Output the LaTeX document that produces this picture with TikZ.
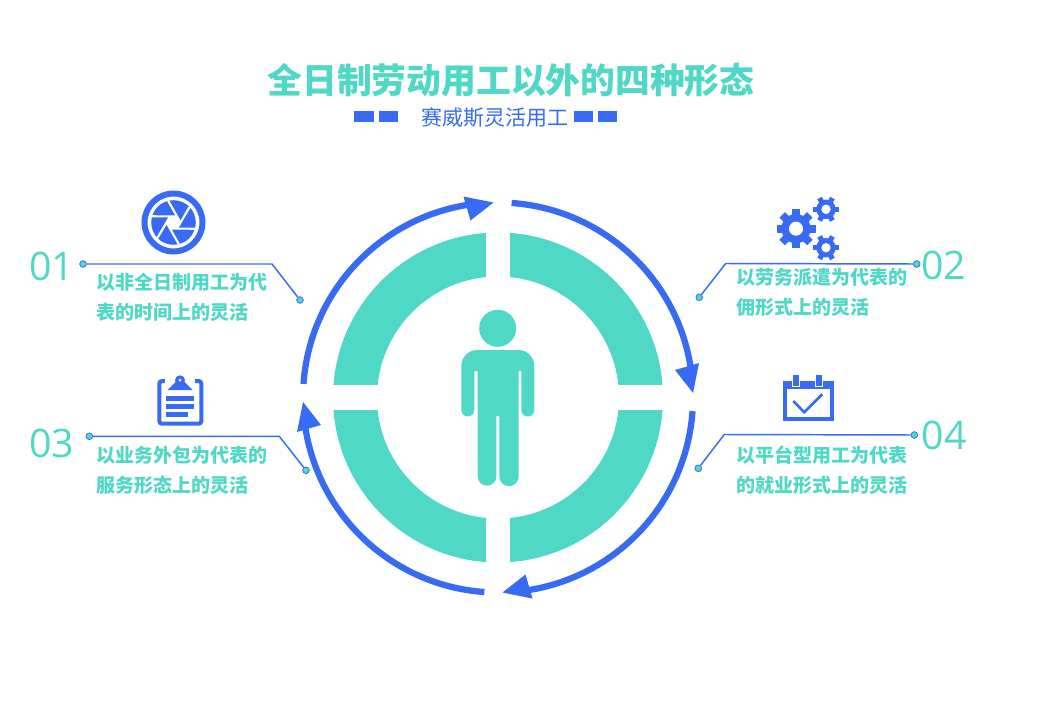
\documentclass[tikz,border=0pt]{standalone}
\usepackage{fontspec}
\usepackage{xcolor}
\usepackage{tikz}
\usetikzlibrary{positioning,calc}
\setmainfont{Noto Sans CJK SC}
\newfontfamily\numfont{Open Sans}
\definecolor{tealmain}{RGB}{79,216,197}
\definecolor{bluemain}{RGB}{55,107,243}
\tikzset{
    titletext/.style={inner sep=0pt,text=tealmain,font=\bfseries\fontsize{26.1}{30}\selectfont},
    subtext/.style={inner sep=0pt,text=bluemain,font=\fontsize{15.75}{18}\selectfont},
    numtext/.style={inner sep=0pt,text=tealmain,font=\numfont\fontsize{29.5}{32}\selectfont},
    desctext/.style={inner sep=0pt,anchor=west,align=left,text=tealmain,font=\bfseries\fontsize{14.25}{22.5}\selectfont},
    dotmark/.style={circle,inner sep=0pt,minimum size=5pt,fill=tealmain,draw=bluemain,line width=0.6pt},
    leader/.style={draw=bluemain,line width=1.1pt},
    ringarrow/.style={draw=bluemain,line width=4.7pt}
}
\begin{document}
\begin{tikzpicture}[x=0.75pt,y=0.75pt]
    \useasboundingbox (0,0) rectangle (1047,-718);

    % Title
    \node[titletext] (title) at (511,-80) {全日制劳动用工以外的四种形态};
    \node[subtext] (sub) at (494.5,-118) {赛威斯灵活用工};
    \foreach \xa/\xb in {354/374, 379/398, 574/592.7, 598.3/616.7} {
        \fill[bluemain] (\xa,-111) rectangle (\xb,-121.7);
    }

    % Ring
    \fill[tealmain,even odd rule] (498,-397.5) circle (165) (498,-397.5) circle (121);
    \fill[white] (486,-220) rectangle (510,-575);
    \fill[white] (320,-385) rectangle (676,-410);

    % Arrows
    \foreach \a in {0,-90,-180,-270} {
        \begin{scope}[shift={(498,-397.5)},rotate=\a]
            \draw[ringarrow] (86:195) arc (86:8:195);
            \fill[bluemain] (177,27.5) -- (195,4.5) -- (201,34.5) -- cycle;
        \end{scope}
    }

    % Person
    \fill[tealmain] (497.7,-328.3) circle (18.5);
    \fill[tealmain] (461.3,-366) arc (180:90:16) -- (518.3,-350) arc (90:0:16)
        -- (534.3,-410) arc (0:-180:6.5) -- (521.3,-371) -- (518.7,-371)
        -- (518.7,-476.4) arc (0:-180:9.7) -- (499.3,-416) -- (496.3,-416)
        -- (496.3,-476.4) arc (0:-180:9.3) -- (477.7,-371) -- (474.3,-371)
        -- (474.3,-410) arc (0:-180:6.5) -- cycle;

    % 01
    \node[numtext] (num01) at (51.5,-266) {01};
    \node[dotmark] (dot01a) at (83,-264) {};
    \node[dotmark] (dot01b) at (300,-300) {};
    \coordinate (bend01) at (272,-264);
    \draw[leader] (dot01a) -- (bend01) -- (dot01b);
    \node[desctext] (desc01) at (96,-297.5) {以非全日制用工为代\\表的时间上的灵活};
    % shutter icon
    \begin{scope}[shift={(173.5,-222.5)}]
        \draw[bluemain,line width=4.5pt] (0,0) circle (29);
        \fill[bluemain] (0,0) circle (22.3);
        \foreach \a in {0,60,...,300} {
            \draw[white,line width=1.6pt,rotate=\a+60] (7,0) -- (-5.3,21.6);
        }
        \fill[white] (0:7) -- (60:7) -- (120:7) -- (180:7) -- (240:7) -- (300:7) -- cycle;
    \end{scope}

    % 02
    \node[numtext] (num02) at (943.5,-265) {02};
    \node[dotmark] (dot02a) at (916.7,-264) {};
    \node[dotmark] (dot02b) at (699.3,-297.3) {};
    \coordinate (bend02) at (725.7,-263.5);
    \draw[leader] (dot02a) -- (bend02) -- (dot02b);
    \node[desctext] (desc02) at (736,-292) {以劳务派遣为代表的\\佣形式上的灵活};
    % gear icon
    \foreach \gx/\gy/\gr/\gstep in {796/-228.7/19.5/45, 826/-209.3/13/60, 826/-247.7/13/60} {
        \begin{scope}[shift={(\gx,\gy)}]
            \fill[bluemain] (0,0) circle (0.75*\gr);
            \pgfmathsetmacro{\gnext}{\gstep+\gstep}
            \foreach \a in {0,\gstep,\gnext,...,359} {
                \fill[bluemain,rotate=\a] (0.6*\gr,-0.2*\gr) rectangle (\gr,0.2*\gr);
            }
            \fill[white] (0,0) circle (0.36*\gr);
        \end{scope}
    }

    % 03
    \node[numtext] (num03) at (51.7,-443) {03};
    \node[dotmark] (dot03a) at (89.3,-436.3) {};
    \node[dotmark] (dot03b) at (306,-470.3) {};
    \coordinate (bend03) at (279.3,-436.3);
    \draw[leader] (dot03a) -- (bend03) -- (dot03b);
    \node[desctext] (desc03) at (96,-470) {以业务外包为代表的\\服务形态上的灵活};
    % clipboard icon
    \draw[bluemain,line width=3pt,rounded corners=2pt] (159.3,-381) rectangle (201.3,-423.7);
    \fill[white] (165,-376) rectangle (195,-389);
    \fill[bluemain] (167.7,-390) -- (175.5,-382) -- (184.5,-382) -- (192.7,-390) -- cycle;
    \fill[bluemain] (180,-380.3) circle (5);
    \fill[white] (180,-380) circle (1.5);
    \foreach \ya/\xb in {396/194, 404/194, 412/188} {
        \fill[bluemain] (166,-\ya) rectangle (\xb,-\ya-4.7);
    }

    % 04
    \node[numtext] (num04) at (944,-435.5) {04};
    \node[dotmark] (dot04a) at (914.3,-435) {};
    \node[dotmark] (dot04b) at (698.3,-468.3) {};
    \coordinate (bend04) at (724.3,-434.5);
    \draw[leader] (dot04a) -- (bend04) -- (dot04b);
    \node[desctext] (desc04) at (736,-470.4) {以平台型用工为代表\\的就业形式上的灵活};
    % calendar icon
    \draw[bluemain,line width=3pt] (785.3,-383) rectangle (832,-419);
    \fill[bluemain] (783.3,-381) rectangle (834,-389);
    \foreach \x in {792.8,815.5} {
        \fill[bluemain,draw=white,line width=0.7pt] (\x,-374.5) rectangle (\x+6.6,-386.2);
    }
    \draw[bluemain,line width=2pt] (793.3,-401) -- (804.3,-412.3) -- (822.3,-394.3);
\end{tikzpicture}
\end{document}
